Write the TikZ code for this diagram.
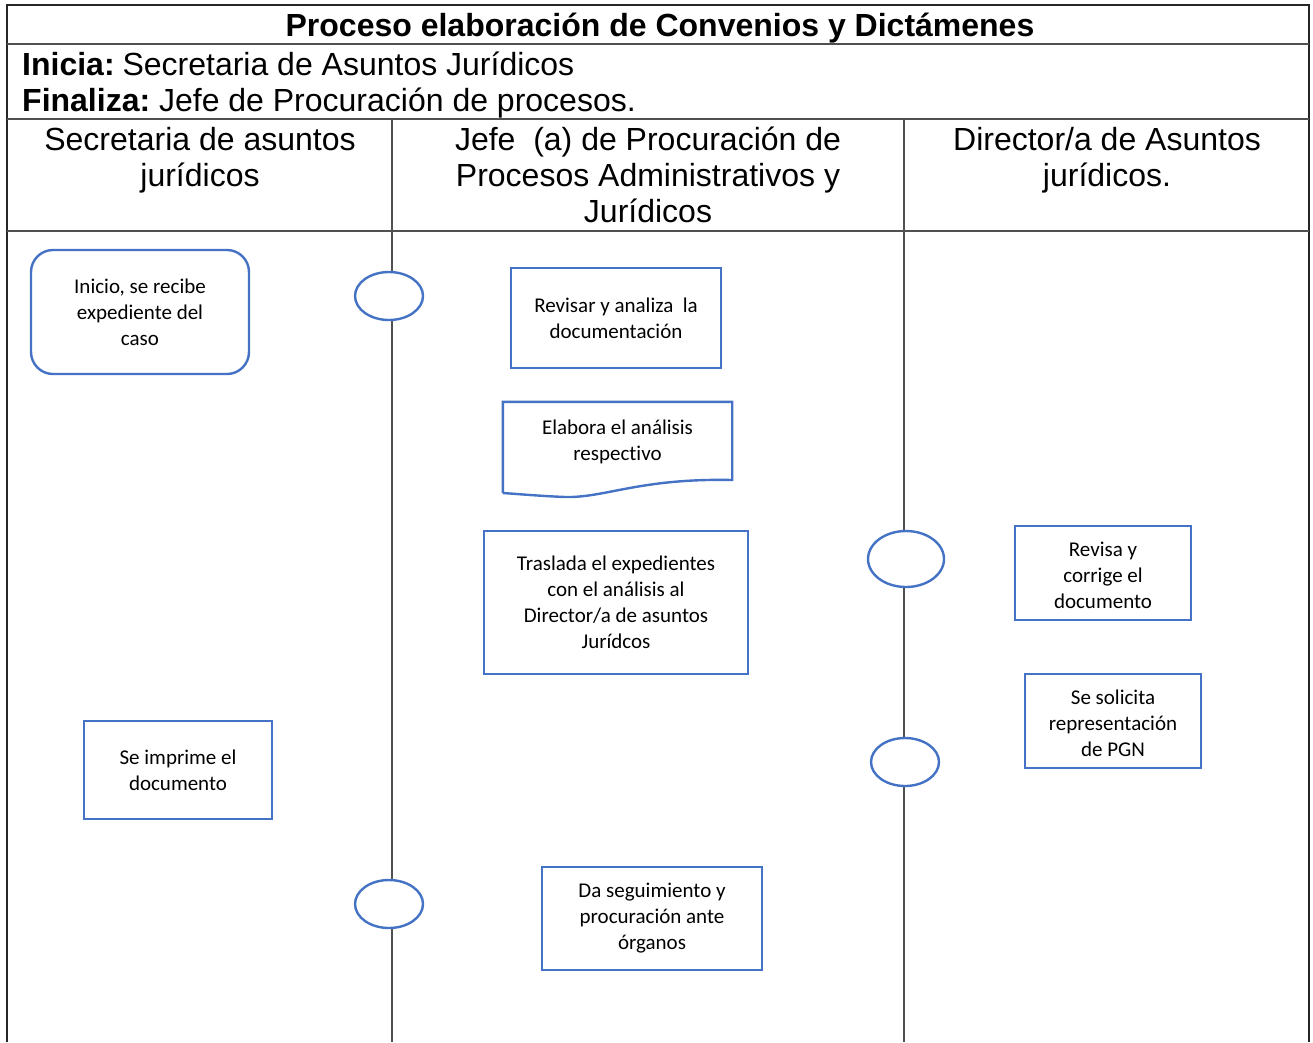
\documentclass[tikz,border=0pt]{standalone}
\usepackage{fontspec}
\setmainfont{Liberation Sans}
\newfontfamily\boxfont[Ligatures=NoCommon]{Carlito}
\definecolor{flowblue}{HTML}{4472C4}
\definecolor{gridgray}{HTML}{505050}
\tikzset{
  grid line/.style={draw=gridgray, line width=1.6pt},
  outer line/.style={draw=black!85, line width=1.6pt},
  head text/.style={inner sep=0pt, font=\fontsize{32}{36}\selectfont, align=center},
  flowbox/.style={draw=flowblue, line width=2.4pt, fill=white, inner sep=0pt, align=center,
                  font=\boxfont\fontsize{21}{26}\selectfont},
  roundbox/.style={flowbox, rounded corners=22pt},
  junction/.style={draw=flowblue, line width=2.4pt, fill=white, ellipse, inner sep=0pt},
}
\usetikzlibrary{shapes.geometric}
\begin{document}
\begin{tikzpicture}[x=1pt,y=-1pt]
\useasboundingbox (0,0) rectangle (1313,1042);
% table frame
\draw[outer line] (7,1042) -- (7,5) -- (1309,5) -- (1309,1042);
\draw[grid line] (7,44) -- (1309,44);
\draw[grid line] (7,119) -- (1309,119);
\draw[grid line] (7,231) -- (1309,231);
\draw[grid line] (392,119) -- (392,1042);
\draw[grid line] (904,119) -- (904,1042);

% header texts
\node[head text, font=\bfseries\fontsize{32}{36}\selectfont, anchor=base] (title) at (660,36) {Proceso elaboración de Convenios y Dictámenes};
\node[head text, anchor=base west] (inicia) at (22,75) {\textbf{Inicia:}\hspace{-4pt} Secretaria de Asuntos Jurídicos};
\node[head text, anchor=base west] (finaliza) at (22,111) {\textbf{Finaliza:}\hspace{-3pt} Jefe de Procuración de procesos.};
\node[head text, anchor=north] (lane1) at (200,127) {Secretaria de asuntos\\jurídicos};
\node[head text, anchor=north] (lane2) at (648,127) {Jefe \ (a) de Procuración de\\Procesos Administrativos y\\Jurídicos};
\node[head text, anchor=north] (lane3) at (1107,127) {Director/a de Asuntos\\jurídicos.};

% junction ellipses on lane lines
\node[junction, minimum width=68pt, minimum height=48pt] (j1) at (389,296) {};
\node[junction, minimum width=68pt, minimum height=48pt] (j2) at (389,904) {};
\node[junction, minimum width=76pt, minimum height=56pt] (j3) at (906,559) {};
\node[junction, minimum width=68pt, minimum height=48pt] (j4) at (905,762) {};

% process boxes
\node[roundbox, minimum width=218pt, minimum height=124pt] (inicio) at (140,312) {Inicio, se recibe\\expediente del\\caso};
\node[flowbox, minimum width=210pt, minimum height=100pt] (revisar) at (616,318) {Revisar y analiza \ la\\documentación};
\node[flowbox, draw=none, fill=none, minimum width=227pt, minimum height=77pt] (elabora) at (617.5,441.5) {Elabora el análisis\\respectivo};
\draw[draw=flowblue, line width=2.4pt, line join=miter]
  (elabora.north west |- 0,493) -- (elabora.north west) -- (elabora.north east) -- (elabora.north east |- 0,480)
  .. controls (640,478) and (605,498) .. (565,497)
  .. controls (540,496) and (518,494) .. (elabora.north west |- 0,493);
\node[flowbox, minimum width=264pt, minimum height=143pt] (traslada) at (616,602.5) {Traslada el expedientes\\con el análisis al\\Director/a de asuntos\\Jurídcos};
\node[flowbox, minimum width=176pt, minimum height=94pt] (revisa) at (1103,573) {\rule{0pt}{20pt}Revisa y\\corrige el\\documento};
\node[flowbox, minimum width=176pt, minimum height=94pt] (solicita) at (1113,721) {\rule{0pt}{20pt}Se solicita\\representación\\de PGN};
\node[flowbox, minimum width=188pt, minimum height=98pt] (imprime) at (178,770) {Se imprime el\\documento};
\node[flowbox, minimum width=220pt, minimum height=103pt] (seguimiento) at (652,918.5) {Da seguimiento y\\procuración ante\\órganos};
\end{tikzpicture}
\end{document}
